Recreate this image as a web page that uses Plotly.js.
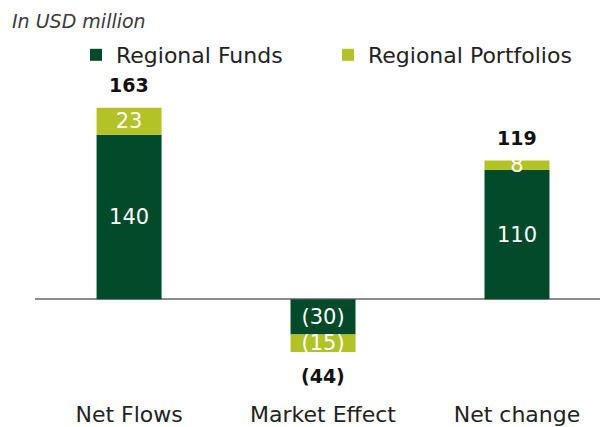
<!DOCTYPE html>
<html>
<head>
<meta charset="utf-8">
<script src="https://cdn.plot.ly/plotly-3.0.1.min.js"></script>
<style>html,body{margin:0;padding:0;background:#fff}#chart{width:601px;height:427px}</style>
</head>
<body>
<div id="chart"></div>
<script>
var categories = ["Net Flows", "Market Effect", "Net change"];
var regionalFunds = [140, -30, 110];
var regionalPortfolios = [23, -15, 8];
var totals = [163, -44, 119];

var DARK = "#034a2a";
var LIME = "#b3c226";
var FONT = "DejaVu Sans, Verdana, sans-serif";

function fmt(v) { return v < 0 ? "(" + Math.abs(v) + ")" : String(v); }

var traces = [
  {
    type: "bar", name: "Regional Funds", x: categories, y: regionalFunds,
    marker: {color: DARK}, width: 0.335,
    text: regionalFunds.map(fmt), textposition: "inside", insidetextanchor: "middle",
    textangle: 0, constraintext: "none",
    textfont: {color: "#ffffff", size: 21, family: FONT},
    hoverinfo: "skip"
  },
  {
    type: "bar", name: "Regional Portfolios", x: categories, y: regionalPortfolios,
    marker: {color: LIME}, width: 0.335,
    text: regionalPortfolios.map(fmt), textposition: "inside", insidetextanchor: "middle",
    textangle: 0, constraintext: "none",
    textfont: {color: "#ffffff", size: 21, family: FONT},
    hoverinfo: "skip"
  }
];

var annotations = categories.map(function (c, i) {
  var pos = 0, neg = 0;
  [regionalFunds[i], regionalPortfolios[i]].forEach(function (v) { if (v >= 0) pos += v; else neg += v; });
  var up = totals[i] >= 0;
  return {
    x: c, y: up ? pos : neg, xref: "x", yref: "y",
    text: "<b>" + fmt(totals[i]) + "</b>", showarrow: false,
    yanchor: "middle", yshift: up ? 23 : -24,
    font: {size: 19, color: "#111", family: FONT}
  };
});

var layout = {
  width: 601, height: 427,
  margin: {l: 35, r: 1, t: 75, b: 28},
  paper_bgcolor: "#fff", plot_bgcolor: "#fff",
  barmode: "relative",
  title: {
    text: "<i>In USD million</i>", x: 0.02, xref: "container", xanchor: "left",
    y: 1 - 21 / 427, yref: "container", yanchor: "middle",
    font: {size: 19, color: "#3a3a3a", family: FONT}
  },
  showlegend: true,
  legend: {
    orientation: "h", x: 76 / 601, xref: "container", xanchor: "left",
    y: 1 - 55 / 427, yref: "container", yanchor: "middle",
    font: {size: 22, color: "#222", family: FONT},
    traceorder: "normal", entrywidth: 207, entrywidthmode: "pixels",
    bgcolor: "rgba(0,0,0,0)"
  },
  xaxis: {
    range: [-0.485, 2.428], showgrid: false, showline: false, zeroline: false,
    ticks: "", tickfont: {size: 22, color: "#222", family: FONT}, fixedrange: true
  },
  yaxis: {
    range: [-85, 190], showgrid: false, showticklabels: false, ticks: "",
    zeroline: true, zerolinecolor: "#8c8c8c", zerolinewidth: 1.5, showline: false, fixedrange: true
  },
  annotations: annotations
};

Plotly.newPlot("chart", traces, layout, {displayModeBar: false, staticPlot: true});
</script>
</body>
</html>
